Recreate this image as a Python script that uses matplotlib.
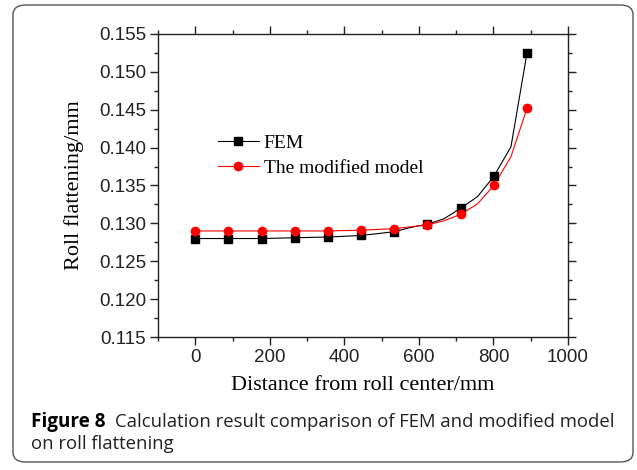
import numpy as np
import matplotlib
matplotlib.use("Agg")
import matplotlib.pyplot as plt
from matplotlib.patches import FancyBboxPatch

# distance from roll center (mm)
dist = [0, 89, 178, 267, 356, 445, 534, 623, 712, 801, 890]
fem = [0.1280, 0.1280, 0.1280, 0.1281, 0.1282, 0.1284, 0.1289, 0.1299, 0.1320, 0.1362, 0.1525]
model = [0.1290, 0.1290, 0.1290, 0.1290, 0.1290, 0.1291, 0.1293, 0.1298, 0.1312, 0.1350, 0.1452]

# connecting lines (incl. the in-between vertices)
line_x = [0, 89, 178, 267, 356, 445, 534, 578, 623, 667, 712, 757, 801, 847, 890]
fem_line = [0.1280, 0.1280, 0.1280, 0.1281, 0.1282, 0.1284, 0.1289, 0.12946, 0.1299,
            0.1306, 0.1320, 0.13352, 0.1362, 0.14012, 0.1525]
model_line = [0.1290, 0.1290, 0.1290, 0.1290, 0.1290, 0.1291, 0.1293, 0.12955, 0.1298,
              0.13034, 0.1312, 0.13256, 0.1350, 0.1388, 0.1452]

xticks = [0, 200, 400, 600, 800, 1000]
yticks = [0.115, 0.120, 0.125, 0.130, 0.135, 0.140, 0.145, 0.150, 0.155]

W, H = 637, 470
fig = plt.figure(figsize=(W / 100, H / 100), dpi=100, facecolor='w')

# rounded frame around figure + caption
box = FancyBboxPatch((13 / W, 8 / H), 620 / W, 457 / H,
                     boxstyle="round,pad=0,rounding_size=0.02",
                     transform=fig.transFigure, fill=False,
                     edgecolor='#555555', linewidth=1.0)
fig.patches.append(box)

ax = fig.add_axes([158 / W, 1 - 337 / H, 410 / W, 303 / H])

ax.plot(line_x, fem_line, color='k', lw=0.8, zorder=2)
ax.plot(line_x, model_line, color='r', lw=0.8, zorder=2)
ax.plot(dist, fem, 's', color='k', ms=5.5, zorder=3)
ax.plot(dist, model, 'o', color='r', ms=6, zorder=4)

# legend proxies
ax.plot([], [], 's-', color='k', ms=5.5, lw=0.8, label='FEM')
ax.plot([], [], 'o-', color='r', ms=6, lw=0.8, label='The modified model')

ax.set_xlim(-100, 1000)
ax.set_ylim(0.115, 0.155)
ax.set_xticks(xticks)
ax.set_yticks(yticks)
ax.set_yticklabels(['%.3f' % v for v in yticks])
ax.set_xticks([-100, 100, 300, 500, 700, 900], minor=True)
ax.set_yticks(np.arange(0.1175, 0.155, 0.005), minor=True)

for lab in ax.get_xticklabels() + ax.get_yticklabels():
    lab.set_fontfamily('Liberation Sans')
    lab.set_fontsize(13.5)

ax.tick_params(which='both', direction='out', top=True, right=True, width=1.0,
               colors='#222222', pad=3)
ax.tick_params(which='major', length=5.5)
ax.tick_params(which='minor', length=3)
for s in ax.spines.values():
    s.set_linewidth(1.0)
    s.set_color('#222222')

ax.set_xlabel('Distance from roll center/mm', family='Liberation Serif', fontsize=16, labelpad=7)
ax.set_ylabel('Roll flattening/mm', family='Liberation Serif', fontsize=16, labelpad=11)

ax.legend(loc='center left', bbox_to_anchor=(218 / W, 1 - 155.5 / H),
          bbox_transform=fig.transFigure, frameon=False,
          prop={'family': 'Liberation Serif', 'size': 14},
          handlelength=2.1, handletextpad=0.25, borderpad=0, borderaxespad=0,
          labelspacing=0.4)

fig.text(31 / W, 1 - 427 / H, 'Figure 8', family='Open Sans', weight='bold',
         fontsize=13.6, va='baseline', ha='left')
fig.text(115 / W, 1 - 427 / H, 'Calculation result comparison of FEM and modified model',
         family='Open Sans', fontsize=13.3, va='baseline', ha='left', color='#222222')
fig.text(31 / W, 1 - 449 / H, 'on roll flattening',
         family='Open Sans', fontsize=13.3, va='baseline', ha='left', color='#222222')

fig.savefig('out.png', dpi=100)
